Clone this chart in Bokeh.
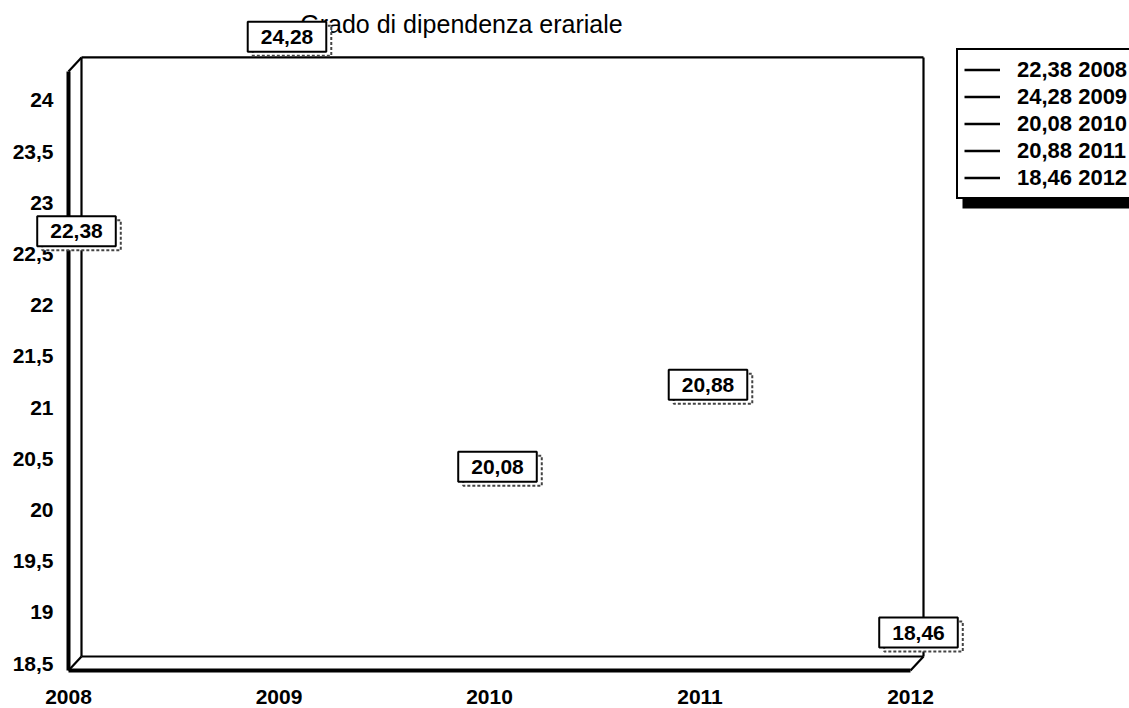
from bokeh.plotting import figure
from bokeh.models import Range1d, FixedTicker, Label, Legend, LegendItem, BoxAnnotation
from bokeh.embed import file_html
from bokeh.resources import INLINE

# ---------------- data ----------------
years = [2008, 2009, 2010, 2011, 2012]
values = [22.38, 24.28, 20.08, 20.88, 18.46]
value_labels = ["22,38", "24,28", "20,08", "20,88", "18,46"]
year_labels = ["2008", "2009", "2010", "2011", "2012"]
y_ticks = [18.5, 19, 19.5, 20, 20.5, 21, 21.5, 22, 22.5, 23, 23.5, 24]
y_tick_labels = ["18,5", "19", "19,5", "20", "20,5", "21", "21,5", "22", "22,5", "23", "23,5", "24"]
title_text = "Grado di dipendenza erariale"
y_top = 24.35

# ---------------- layout ----------------
W, H = 1129, 708
BL, BB = 30, 26
FRAME_L, FRAME_R = BL, W
FRAME_T, FRAME_B = 0, H - BB
PX_X, X0 = 210.5, 68      # px per year, canvas x of first year
PX_Y, Y0 = 102.4, 663     # px per unit, canvas y of first tick


def px2x(px):
    return years[0] + (px - X0) / PX_X


def px2y(py):
    return y_ticks[0] + (Y0 - py) / PX_Y


FONT = "Liberation Sans"

p = figure(width=W, height=H, output_backend="svg", toolbar_location=None,
           x_range=Range1d(px2x(FRAME_L), px2x(FRAME_R)),
           y_range=Range1d(px2y(FRAME_B), px2y(FRAME_T)),
           min_border_left=BL, min_border_right=0, min_border_top=0,
           min_border_bottom=BB)
p.outline_line_color = None
p.grid.visible = False
p.background_fill_color = "white"
p.border_fill_color = "white"

for ax in (p.xaxis[0], p.yaxis[0]):
    ax.axis_line_color = None
    ax.major_tick_line_color = None
    ax.minor_tick_line_color = None
    ax.major_tick_out = 0
    ax.major_tick_in = 0
    ax.minor_tick_out = 0
    ax.minor_tick_in = 0
    ax.major_label_text_font = FONT
    ax.major_label_text_font_size = "21px"
    ax.major_label_text_font_style = "bold"
    ax.major_label_text_color = "black"

p.xaxis[0].ticker = FixedTicker(ticks=years)
p.xaxis[0].major_label_overrides = {y: s for y, s in zip(years, year_labels)}
p.xaxis[0].major_label_standoff = 7
p.yaxis[0].ticker = FixedTicker(ticks=y_ticks)
p.yaxis[0].major_label_overrides = {t: s for t, s in zip(y_ticks, y_tick_labels)}
p.yaxis[0].major_label_standoff = BL - 53

# ---------------- 3D frame ----------------
DX = 13 / PX_X
DYH = 7 / PX_Y
xl, xr = years[0], years[-1]
yb_f, yb_b = y_ticks[0] - DYH, y_ticks[0] + DYH
yt_f, yt_b = y_top - DYH, y_top + DYH

thin_xs = [[xl + DX, xl + DX], [xl + DX, xr + DX], [xr + DX, xr + DX], [xl + DX, xr + DX],
           [xl, xl + DX], [xl, xl + DX], [xr, xr + DX]]
thin_ys = [[yb_b, yt_b], [yt_b, yt_b], [yt_b, yb_b], [yb_b, yb_b],
           [yt_f, yt_b], [yb_f, yb_b], [yb_f, yb_b]]
p.multi_line(thin_xs, thin_ys, line_color="black", line_width=2.2)
p.multi_line([[xl, xl], [xl, xr]], [[yb_f, yt_f], [yb_f, yb_f]],
             line_color="black", line_width=4)

# ---------------- series (one point each) ----------------
renderers = []
for yr, v in zip(years, values):
    r = p.line(x=[yr], y=[v], line_color="black", line_width=2.5)
    renderers.append(r)

# ---------------- title ----------------
p.add_layout(Label(x=px2x(461), y=px2y(23), text=title_text, text_align="center",
                   text_baseline="middle", text_font=FONT, text_font_size="25px",
                   text_color="black"))

# ---------------- value labels ----------------
for yr, v, s in zip(years, values, value_labels):
    p.add_layout(Label(x=yr, y=v, text=s, x_offset=13, y_offset=31,
                       text_align="center", text_baseline="middle",
                       text_font=FONT, text_font_size="21px", text_font_style="bold",
                       text_color="white", padding=(13, 8),
                       background_fill_color="white",
                       border_line_color="#444444", border_line_width=2,
                       border_line_dash="3 2"))
    p.add_layout(Label(x=yr, y=v, text=s, x_offset=8, y_offset=35,
                       text_align="center", text_baseline="middle",
                       text_font=FONT, text_font_size="21px", text_font_style="bold",
                       text_color="black", padding=(13, 8),
                       background_fill_color="white",
                       border_line_color="black", border_line_width=2))

# ---------------- legend ----------------
LEG_PAD, ROW_H = 6, 27
LEG_H = 149
LEG_LEFT, LEG_TOP = 956, 50
p.add_layout(BoxAnnotation(left=px2x(LEG_LEFT + 6), right=px2x(W + 20),
                           top=px2y(LEG_TOP + 9), bottom=px2y(LEG_TOP + LEG_H + 9),
                           fill_color="black", fill_alpha=1, line_color=None))
items = [LegendItem(label=f"{s} {y}", renderers=[r])
         for s, y, r in zip(value_labels, year_labels, renderers)]
legend = Legend(items=items, location=(LEG_LEFT - FRAME_L, FRAME_B - LEG_TOP - LEG_H),
                padding=LEG_PAD, spacing=0, margin=0,
                glyph_width=36, glyph_height=ROW_H, label_height=ROW_H,
                label_standoff=17, label_text_font=FONT, label_text_font_size="22px",
                label_text_font_style="bold", label_text_color="black",
                border_line_color="black", border_line_width=2.5, border_line_alpha=1,
                background_fill_color="white", background_fill_alpha=1)
p.add_layout(legend)

open("out.html", "w").write(file_html(p, INLINE))
